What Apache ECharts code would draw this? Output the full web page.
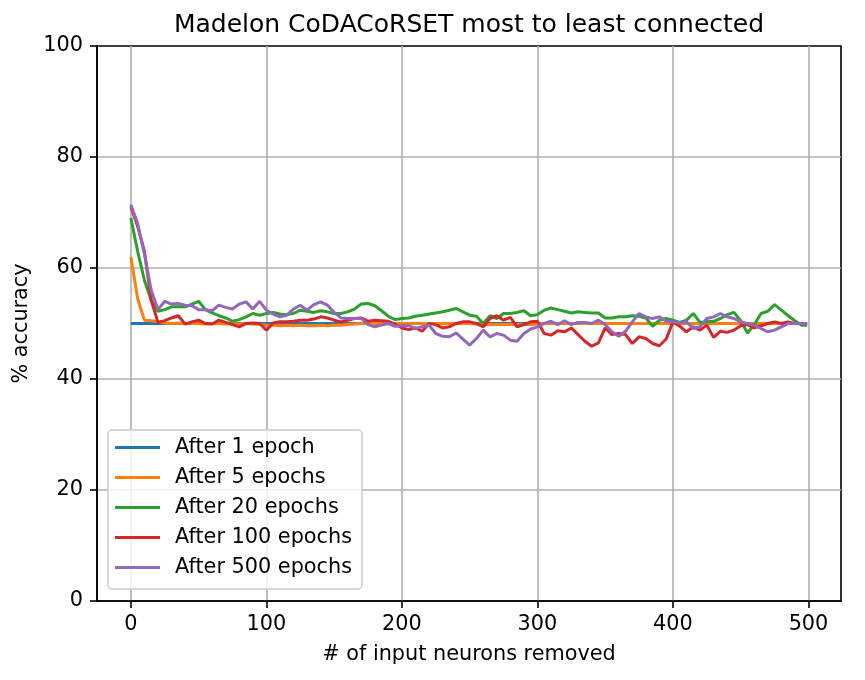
<!DOCTYPE html>
<html>
<head>
<meta charset="utf-8">
<title>Madelon CoDACoRSET most to least connected</title>
<script src="https://cdn.jsdelivr.net/npm/echarts@6/dist/echarts.min.js"></script>
<style>
  html, body { margin: 0; padding: 0; background: #fff; }
  #chart { width: 865px; height: 680px; }
</style>
</head>
<body>
<div id="chart"></div>
<script>
// x positions (number of input neurons removed), read every 5 steps
const neuronsRemoved = [
  0, 5, 10, 15, 20, 25, 30, 35, 40, 45, 50, 55, 60, 65, 70, 75, 80, 85, 90, 95,
  100, 105, 110, 115, 120, 125, 130, 135, 140, 145, 150, 155, 160, 165, 170, 175, 180, 185, 190, 195,
  200, 205, 210, 215, 220, 225, 230, 235, 240, 245, 250, 255, 260, 265, 270, 275, 280, 285, 290, 295,
  300, 305, 310, 315, 320, 325, 330, 335, 340, 345, 350, 355, 360, 365, 370, 375, 380, 385, 390, 395,
  400, 405, 410, 415, 420, 425, 430, 435, 440, 445, 450, 455, 460, 465, 470, 475, 480, 485, 490, 495, 499
]

const after1 = [
  50, 50, 50, 50, 50, 50, 50, 50, 50, 50, 50, 50, 50, 50, 50, 50, 50, 50, 50, 50,
  50, 50, 50, 50, 50, 50, 50, 50, 50, 50, 50, 50, 50, 50, 50, 50, 50, 50, 50, 50,
  50, 50, 50, 50, 50, 50, 50, 50, 50, 50, 50, 50, 50, 50, 50, 50, 50, 50, 50, 50,
  50, 50, 50, 50, 50, 50, 50, 50, 50, 50, 50, 50, 50, 50, 50, 50, 50, 50, 50, 50,
  50, 50, 50, 50, 50, 50, 50, 50, 50, 50, 50, 50, 50, 50, 50, 50, 50, 50, 50, 50, 50
]

const after5 = [
  62.0, 54.5, 50.6, 50.5, 50.3, 50.1, 50.0, 50.1, 50.0, 50.0, 50.0, 49.9, 50.0, 50.0, 49.9, 50.0, 49.9, 50.0, 49.9, 49.8,
  49.7, 49.7, 49.6, 49.7, 49.6, 49.7, 49.6, 49.6, 49.7, 49.6, 49.7, 49.7, 49.8, 49.9, 50.0, 50.0, 50.0, 50.0, 50.0, 50.0,
  50.0, 50.0, 50.0, 50.0, 50.0, 50.0, 50.0, 50.0, 50.0, 50.0, 50.0, 49.9, 49.8, 49.8, 49.8, 49.8, 49.8, 49.8, 49.8, 49.8,
  49.9, 50.0, 50.0, 50.0, 50.0, 50.0, 50.0, 50.0, 50.0, 50.0, 50.0, 50.0, 50.0, 50.0, 50.0, 50.0, 50.0, 50.0, 50.0, 50.0,
  50.0, 50.0, 50.0, 50.0, 50.0, 50.0, 50.0, 50.0, 50.0, 50.0, 50.0, 50.0, 50.0, 50.0, 50.0, 50.0, 50.0, 50.0, 50.0, 50.0, 50.0
]

const after20 = [
  69.0, 63.0, 57.8, 54.2, 52.2, 52.5, 53.0, 53.0, 53.0, 53.5, 54.0, 52.5, 51.9, 51.4, 51.0, 50.4, 50.7, 51.2, 51.8, 51.5,
  51.8, 52.0, 51.7, 51.6, 51.8, 52.4, 52.2, 52.0, 52.3, 52.1, 51.8, 51.8, 52.1, 52.6, 53.5, 53.6, 53.2, 52.3, 51.3, 50.7,
  50.9, 51.0, 51.3, 51.5, 51.7, 51.9, 52.1, 52.4, 52.7, 52.1, 51.5, 51.3, 50.0, 51.4, 50.9, 51.8, 51.8, 52.0, 52.3, 51.4,
  51.6, 52.4, 52.8, 52.5, 52.2, 51.9, 52.1, 52.0, 51.9, 51.9, 51.0, 51.0, 51.2, 51.2, 51.4, 51.3, 51.0, 49.5, 50.6, 50.9,
  50.6, 50.2, 50.6, 51.8, 50.2, 50.3, 50.4, 50.9, 51.6, 52.0, 50.5, 48.3, 49.8, 51.8, 52.2, 53.4, 52.4, 51.4, 50.5, 49.7, 49.7
]

const after100 = [
  71.0, 67.5, 63.0, 54.2, 50.2, 50.5, 51.0, 51.4, 49.9, 50.3, 50.6, 50.0, 49.9, 50.6, 50.2, 49.8, 49.4, 50.0, 50.1, 50.0,
  48.8, 50.1, 50.3, 50.3, 50.4, 50.6, 50.6, 50.8, 51.2, 51.0, 50.6, 50.3, 50.6, 50.9, 51.0, 50.4, 50.6, 50.5, 50.4, 49.9,
  49.2, 48.9, 49.2, 48.6, 50.0, 49.8, 49.2, 49.4, 50.0, 50.3, 50.3, 50.0, 49.4, 50.9, 51.4, 50.6, 51.1, 49.4, 49.8, 50.3,
  50.4, 48.2, 47.9, 48.7, 48.5, 49.2, 48.0, 46.8, 45.9, 46.5, 49.2, 48.0, 48.2, 48.0, 46.4, 47.6, 47.3, 46.4, 46.0, 47.2,
  50.3, 49.5, 48.5, 49.4, 48.8, 49.7, 47.5, 48.6, 48.4, 48.8, 49.6, 49.8, 49.2, 49.6, 50.0, 50.3, 50.0, 50.3, 50.0, 50.0, 50.0
]

const after500 = [
  71.4, 68.0, 62.5, 56.0, 52.5, 54.0, 53.5, 53.6, 53.3, 53.2, 52.5, 52.5, 52.3, 53.3, 52.9, 52.6, 53.5, 53.9, 52.6, 54.0,
  52.4, 51.7, 51.2, 51.5, 52.6, 53.3, 52.4, 53.4, 53.9, 53.3, 52.0, 51.0, 50.9, 50.9, 50.9, 49.8, 49.4, 49.7, 50.0, 49.5,
  49.6, 49.6, 49.1, 49.4, 49.7, 48.2, 47.7, 47.6, 48.3, 47.2, 46.1, 47.3, 48.8, 47.6, 48.2, 47.9, 47.0, 46.8, 48.2, 49.0,
  49.4, 50.0, 50.4, 49.8, 50.5, 49.8, 50.2, 50.2, 50.0, 50.6, 49.8, 48.5, 47.7, 48.6, 50.3, 51.8, 51.2, 50.9, 51.2, 50.4,
  50.3, 50.1, 50.3, 49.1, 49.4, 50.9, 51.2, 51.8, 51.2, 50.9, 50.3, 50.0, 49.7, 49.1, 48.5, 48.8, 49.4, 50.0, 50.0, 50.0, 50.0
]

const xTicks = [0, 100, 200, 300, 400, 500]

const font = 'DejaVu Sans'
const fontSize = 20.8

function lineSeries(name, values, color) {
  return {
    name,
    type: 'line',
    data: neuronsRemoved.map((x, i) => [x, values[i]]),
    showSymbol: false,
    symbol: 'none',
    lineStyle: { width: 3, color },
    itemStyle: { color },
    emphasis: { disabled: true }
  }
}

const chart = echarts.init(document.getElementById('chart'))
chart.setOption({
  animation: false,
  backgroundColor: '#fff',
  textStyle: { fontFamily: font },
  title: {
    text: 'Madelon CoDACoRSET most to least connected',
    left: 464,
    textAlign: 'center',
    top: 8,
    textStyle: { fontFamily: font, fontSize: 25, fontWeight: 'normal', color: '#000' }
  },
  grid: {
    left: 97, right: 24, top: 46, bottom: 79,
    show: true, borderColor: '#000', borderWidth: 1.6,
    outerBoundsMode: 'none'
  },
  legend: {
    orient: 'vertical',
    left: 108,
    top: 430,
    padding: [7, 10, 11, 7],
    itemGap: 9,
    itemWidth: 45,
    itemHeight: 3,
    icon: 'rect',
    backgroundColor: 'rgba(255,255,255,0.8)',
    borderColor: '#cccccc',
    borderWidth: 1.5,
    borderRadius: 4,
    textStyle: { fontFamily: font, fontSize, color: '#000', padding: [0, 0, 0, 10] }
  },
  xAxis: {
    type: 'value',
    min: -25,
    max: 524,
    name: '# of input neurons removed',
    nameLocation: 'middle',
    nameGap: 43,
    nameTextStyle: { fontFamily: font, fontSize, color: '#000' },
    axisLine: { onZero: false, lineStyle: { color: '#000', width: 1.6 } },
    axisTick: { length: 7, customValues: xTicks, lineStyle: { color: '#000', width: 1.6 } },
    axisLabel: { customValues: xTicks, margin: 13, fontFamily: font, fontSize, color: '#000' },
    splitLine: { show: true, lineStyle: { color: '#b0b0b0', width: 1.6 } }
  },
  yAxis: {
    type: 'value',
    min: 0,
    max: 100,
    interval: 20,
    name: '% accuracy',
    nameLocation: 'middle',
    nameGap: 58,
    nameTextStyle: { fontFamily: font, fontSize, color: '#000' },
    axisLine: { show: true, onZero: false, lineStyle: { color: '#000', width: 1.6 } },
    axisTick: { show: true, length: 7, lineStyle: { color: '#000', width: 1.6 } },
    axisLabel: { margin: 14, fontFamily: font, fontSize, color: '#000' },
    splitLine: { show: true, showMinLine: false, showMaxLine: false, lineStyle: { color: '#b0b0b0', width: 1.6 } }
  },
  series: [
    lineSeries('After 1 epoch', after1, '#1f77b4'),
    lineSeries('After 5 epochs', after5, '#ff7f0e'),
    lineSeries('After 20 epochs', after20, '#2ca02c'),
    lineSeries('After 100 epochs', after100, '#d62728'),
    lineSeries('After 500 epochs', after500, '#9467bd')
  ]
})
</script>
</body>
</html>
